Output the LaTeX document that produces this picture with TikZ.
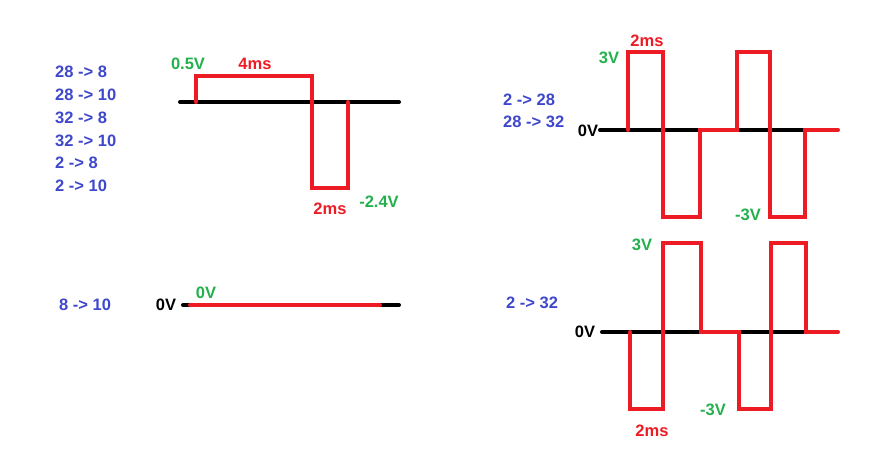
\documentclass[tikz,border=0pt]{standalone}
\usepackage{fontspec}
\setmainfont{Liberation Sans}
\definecolor{pblue}{RGB}{63,72,204}
\definecolor{pred}{RGB}{237,28,36}
\definecolor{pgreen}{RGB}{34,177,76}
\begin{document}
\begin{tikzpicture}[x=1pt,y=-1pt,
  lbl/.style={inner sep=0pt,font=\fontsize{16.5}{16.5}\selectfont\bfseries},
  blue/.style={lbl,text=pblue,anchor=west},
  grn/.style={lbl,text=pgreen},
  rdt/.style={lbl,text=pred},
  blk/.style={lbl,text=black},
  axis/.style={line width=4pt,black,line cap=round},
  wave/.style={line width=4pt,pred,line cap=round,line join=miter}]
\useasboundingbox[fill=white] (0,0) rectangle (870,469);
% ---- panel 1
\node[blue] (l1) at (55,72) {28 -> 8};
\node[blue] (l2) at (55,95) {28 -> 10};
\node[blue] (l3) at (55,118) {32 -> 8};
\node[blue] (l4) at (55,141) {32 -> 10};
\node[blue] (l5) at (55,163) {2 -> 8};
\node[blue] (l6) at (55,186) {2 -> 10};
\draw[axis] (180,102) -- (399,102);
\draw[wave] (196,102) -- (196,76) -- (312,76) -- (312,188) -- (348,188) -- (348,102);
\node[grn] (a1) at (188,64) {0.5V};
\node[rdt] (a2) at (255,64) {4ms};
\node[rdt] (a3) at (330,209) {2ms};
\node[grn] (a4) at (379,202) {-2.4V};
% ---- panel 2
\node[blue] (b1) at (503,100) {2 -> 28};
\node[blue] (b2) at (503,122) {28 -> 32};
\draw[axis] (600,130) -- (803,130);
\draw[wave] (628,130) -- (628,52) -- (663,52) -- (663,217) -- (700,217) -- (700,130)
  -- (737,130) -- (737,52) -- (770,52) -- (770,217) -- (805,217) -- (805,130) -- (838,130);
\node[blk] (b3) at (588,131) {0V};
\node[rdt] (b4) at (647,41) {2ms};
\node[grn] (b5) at (609,58) {3V};
\node[grn] (b6) at (748,215) {-3V};
% ---- panel 3
\node[blue] (c1) at (506,303) {2 -> 32};
\draw[axis] (602,332) -- (805,332);
\draw[wave] (630,332) -- (630,409) -- (663,409) -- (663,243) -- (701,243) -- (701,332)
  -- (739,332) -- (739,409) -- (771,409) -- (771,243) -- (806,243) -- (806,332) -- (838,332);
\node[blk] (c2) at (585,332) {0V};
\node[grn] (c3) at (642,245) {3V};
\node[grn] (c4) at (713,410) {-3V};
\node[rdt] (c5) at (652,431) {2ms};
% ---- panel 4
\node[blue] (d1) at (59,305) {8 -> 10};
\draw[axis] (183,305) -- (399,305);
\draw[wave] (190,305) -- (380,305);
\node[blk] (d2) at (166,305) {0V};
\node[grn] (d3) at (206,293) {0V};
\end{tikzpicture}
\end{document}
